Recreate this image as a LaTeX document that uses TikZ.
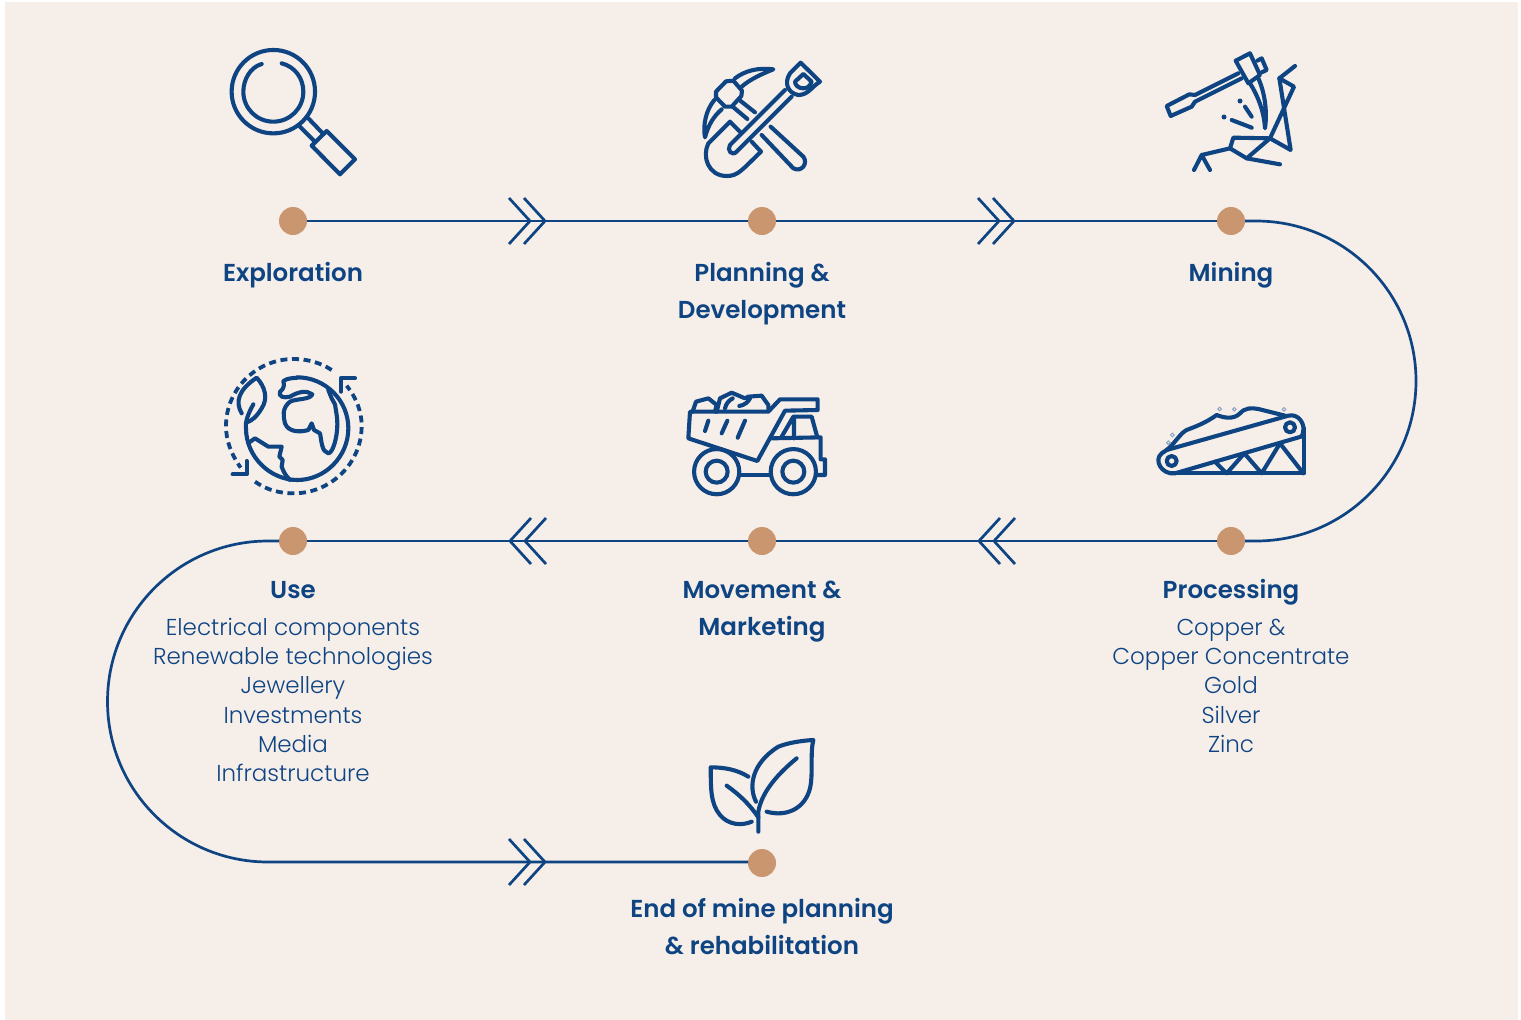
\documentclass[tikz,border=0pt]{standalone}
\usepackage{fontspec}
\setmainfont{Poppins}
\newfontfamily\lightfont{Poppins Light}
\newfontfamily\headfont{Poppins SemiBold}
\usetikzlibrary{calc}
\definecolor{navy}{HTML}{0F4483}
\definecolor{sand}{HTML}{F5EEE9}
\definecolor{dotc}{HTML}{C9966F}
\newcommand{\hstart}{\rule{0pt}{25pt}}
\newcommand{\bstart}{\rule{0pt}{24pt}}
\tikzset{
  flow/.style={draw=navy,line width=2.7pt},
  stop/.style={circle,fill=dotc,minimum size=28pt,inner sep=0pt,outer sep=0pt},
  head/.style={text=navy,align=center,anchor=north,inner sep=0pt,font=\headfont\fontsize{24.5}{37.3}\selectfont},
  body/.style={text=navy,align=center,anchor=north,inner sep=0pt,font=\lightfont\fontsize{23}{29.3}\selectfont},
  icon/.style={draw=navy,line width=4.1pt,line cap=round,line join=round},
  chevright/.pic={\draw[flow] (-21,-23) -- (0,0) -- (-21,23) (-36,-23) -- (-15,0) -- (-36,23);},
  chevleft/.pic={\draw[flow] (21,-23) -- (0,0) -- (21,23) (36,-23) -- (15,0) -- (36,23);}
}
\begin{document}
\begin{tikzpicture}[x=1pt,y=-1pt]
\useasboundingbox (0,0) rectangle (1521,1020);
\fill[sand] (5,2) rectangle (1518,1020);
% stops
\node[stop] (s1) at (293,221) {};
\node[stop] (s2) at (762,221) {};
\node[stop] (s3) at (1231,221) {};
\node[stop] (s4) at (1231,541) {};
\node[stop] (s5) at (762,541) {};
\node[stop] (s6) at (293,541) {};
\node[stop] (s7) at (762,863) {};
\coordinate (r1) at (1256,221);
\coordinate (l1) at (268,541);
\coordinate (l2) at (268,862);
% connectors
\draw[flow] (s1) -- (s2);
\draw[flow] (s2) -- (s3);
\draw[flow] (s3) -- (r1) arc[start angle=90,end angle=-90,radius=160pt] -- (s4);
\draw[flow] (s4) -- (s5);
\draw[flow] (s5) -- (s6);
\draw[flow] (s6) -- (l1) arc[start angle=90,end angle=270,radius=160.5pt] -- (l2) -- (s7.west |- l2);
\pic at (545,221) {chevright};
\pic at (1014,221) {chevright};
\pic at (510,541) {chevleft};
\pic at (979,541) {chevleft};
\pic at (545,862) {chevright};
% labels
\node[head] (t1) at (293,256) {\hstart Exploration};
\node[head] (t2) at (762,256) {\hstart Planning \&\\Development};
\node[head] (t3) at (1231,256) {\hstart Mining};
\node[head] (t4) at (1231,573) {\hstart Processing};
\node[body] (b4) at (1231,611) {\bstart Copper \&\\Copper Concentrate\\Gold\\Silver\\Zinc};
\node[head] (t5) at (762,573) {\hstart Movement \&\\Marketing};
\node[head] (t6) at (293,573) {\hstart Use};
\node[body] (b6) at (293,611) {\bstart Electrical components\\Renewable technologies\\Jewellery\\Investments\\Media\\Infrastructure};
\node[head] (t7) at (762,892) {\hstart End of mine planning\\\& rehabilitation};
% magnifier
\begin{scope}[shift={(200,30)},x=1/3*1pt,y=-1/3*1pt]
\draw[icon] (220,185) circle[radius=41.7pt];
\draw[icon] (185,102) .. controls (150,112) and (130,150) .. (130,185) .. controls (130,235) and (170,275) .. (220,275) .. controls (270,275) and (310,235) .. (310,185) .. controls (310,145) and (285,110) .. (245,100);
\draw[icon] (300,290) -- (345,335) (325,265) -- (370,312);
\draw[icon] (335,347) -- (380,303) -- (465,388) -- (420,433) -- cycle;
\end{scope}
% pick and shovel
\begin{scope}[shift={(680,50)},x=1/3*1pt,y=-1/3*1pt]
\draw[icon] (165,85) .. controls (195,62) and (235,52) .. (280,58) .. controls (245,72) and (210,88) .. (185,110);
\draw[icon] (103,150) .. controls (78,180) and (68,225) .. (75,262) .. controls (85,225) and (100,200) .. (125,178);
\draw[icon] (138,94) -- (160,92) -- (186,122) -- (184,138) -- (155,170) -- (135,170) -- (108,142) -- (108,125) -- cycle;
\draw[icon] (178,150) -- (225,187) (158,170) -- (202,207);
\draw[icon] (272,230) -- (370,320) .. controls (385,340) and (365,368) .. (340,355) -- (245,255);
\draw[icon] (315,120) -- (150,285) .. controls (140,300) and (155,320) .. (170,305) -- (335,140);
\draw[icon] (362,38) -- (420,95) .. controls (395,110) and (385,135) .. (355,135) .. controls (325,130) and (310,100) .. (330,70) -- cycle;
\draw[icon] (345,95) -- (370,72) -- (395,95) .. controls (390,110) and (380,115) .. (370,115) .. controls (355,115) and (345,105) .. (345,95) -- cycle;
\draw[icon] (180,245) -- (150,215) -- (85,280) .. controls (65,320) and (85,378) .. (140,378) .. controls (175,378) and (185,360) .. (243,305) -- (215,275);
\end{scope}
% mining
\begin{scope}[shift={(1150,40)},x=1/3*1pt,y=-1/3*1pt]
\draw[icon] (265,100) -- (135,165) -- (118,163) -- (50,198) -- (62,228) -- (125,200) -- (135,185) -- (275,115);
\draw[icon] (257,62) -- (300,40) -- (330,105) -- (295,130) -- cycle;
\draw[icon] (322,62) -- (335,55) -- (350,90) -- (335,97);
\draw[icon] (300,130) .. controls (325,170) and (342,215) .. (345,265) .. controls (352,215) and (345,160) .. (325,115);
\draw[icon] (285,200) -- (305,230) (245,240) -- (305,263);
\fill[navy] (270,183) circle[radius=2.5pt] (222,231) circle[radius=2.5pt];
\draw[icon] (435,78) -- (388,115) -- (432,140) -- (360,295) -- (290,355) -- (390,373);
\draw[icon] (388,115) -- (422,330) -- (360,295) -- (250,293) -- (240,325) -- (290,355);
\draw[icon] (240,325) -- (155,345) -- (132,390) (155,345) -- (180,390);
\end{scope}
% globe
\begin{scope}[shift={(210,345)},x=1/3*1pt,y=-1/3*1pt]
\draw[icon] (262,97) .. controls (345,97) and (415,165) .. (415,250) .. controls (415,335) and (345,405) .. (262,405) .. controls (180,405) and (108,335) .. (108,250);
\draw[icon,line width=3.8pt,line cap=butt,dash pattern=on 7pt off 4.6pt] (365,75) .. controls (330,52) and (290,42) .. (251,42) .. controls (140,42) and (48,132) .. (48,243) .. controls (48,285) and (62,325) .. (92,368);
\draw[icon,line width=3.8pt,line cap=butt,dash pattern=on 7pt off 4.6pt] (135,410) .. controls (170,435) and (210,445) .. (251,445) .. controls (362,445) and (455,355) .. (455,243) .. controls (455,200) and (440,160) .. (410,122);
\draw[icon] (393,140) -- (393,100) -- (435,100);
\draw[icon] (110,348) -- (110,388) -- (68,388);
\draw[icon] (95,205) .. controls (75,170) and (85,135) .. (140,98) .. controls (165,125) and (175,160) .. (155,190) .. controls (140,215) and (125,228) .. (110,232);
\draw[icon] (130,178) .. controls (115,205) and (105,230) .. (108,250);
\draw[icon] (355,135) -- (365,160) -- (375,178) -- (380,210) .. controls (388,260) and (370,325) .. (355,325) .. controls (335,320) and (335,290) .. (330,265) -- (312,255) -- (305,235) -- (295,255) .. controls (270,262) and (235,262) .. (225,235) .. controls (220,215) and (215,190) .. (240,170) .. controls (260,160) and (300,165) .. (307,148) .. controls (290,135) and (265,140) .. (240,155) .. controls (220,160) and (205,155) .. (210,140) .. controls (228,125) and (220,115) .. (220,108) .. controls (235,98) and (250,100) .. (262,98);
\draw[icon] (118,292) -- (135,280) -- (175,305) -- (215,305) -- (208,335) -- (218,345) -- (215,365) .. controls (222,385) and (230,395) .. (240,405);
\end{scope}
% truck
\begin{scope}[shift={(670,380)},x=1/3*1pt,y=-1/3*1pt]
\draw[icon] (60,95) -- (295,95) -- (330,58) -- (443,58) -- (443,90) -- (345,92) -- (262,243) -- (55,175) -- cycle;
\draw[icon] (68,95) -- (78,65) -- (115,55) -- (140,75) -- (135,95);
\draw[icon] (140,95) -- (150,55) -- (185,38) -- (225,55) -- (235,50) -- (275,47) -- (295,75) -- (295,90);
\draw[icon] (165,85) .. controls (168,72) and (175,62) .. (188,55) (208,78) .. controls (225,75) and (235,65) .. (240,55);
\draw[icon] (115,122) -- (105,153) (172,122) -- (155,160) (225,122) -- (203,173);
\draw[icon] (305,175) -- (452,172) -- (452,238) -- (465,238) -- (465,285) -- (440,285);
\draw[icon] (335,170) -- (370,110) -- (425,110) -- (442,172) (372,110) -- (372,175);
\draw[icon] (140,275) circle[radius=22.6pt] (140,275) circle[radius=11pt];
\draw[icon] (370,275) circle[radius=22.6pt] (370,275) circle[radius=11pt];
\draw[icon] (208,285) -- (302,285);
\end{scope}
% conveyor
\begin{scope}[shift={(1145,395)},x=1/3*1pt,y=-1/3*1pt]
\draw[icon] (65,165) -- (430,62) .. controls (460,55) and (478,85) .. (475,105) .. controls (475,115) and (472,122) .. (468,125) -- (90,235) .. controls (50,240) and (25,195) .. (50,175) -- cycle;
\draw[icon] (80,198) circle[radius=5pt] (435,97) circle[radius=5pt];
\draw[icon] (85,235) -- (478,235) -- (478,100);
\draw[icon] (210,200) -- (245,235) -- (298,175) -- (350,235) -- (405,145) -- (475,235);
\draw[icon] (65,165) .. controls (90,145) and (105,115) .. (125,105) .. controls (150,95) and (180,85) .. (215,60) .. controls (235,68) and (265,75) .. (285,55) .. controls (300,38) and (320,38) .. (340,42) -- (420,62);
\draw[navy!50,line width=.9pt] (224,42) circle[radius=1.8pt] (268,43) circle[radius=1.8pt] (417,43) circle[radius=1.8pt] (82,120) circle[radius=1.8pt] (70,143) circle[radius=1.8pt];
\end{scope}
% leaves
\begin{scope}[shift={(695,730)},x=1/3*1pt,y=-1/3*1pt]
\draw[icon] (190,305) -- (190,245) .. controls (200,185) and (250,130) .. (305,85);
\draw[icon] (183,215) .. controls (160,170) and (170,100) .. (250,50) .. controls (280,38) and (320,32) .. (355,30) .. controls (345,70) and (355,130) .. (345,175) .. controls (330,235) and (275,262) .. (215,245);
\draw[icon] (160,140) .. controls (125,118) and (85,112) .. (47,112) .. controls (48,170) and (45,220) .. (75,255) .. controls (100,285) and (140,288) .. (170,275);
\draw[icon] (95,167) .. controls (135,195) and (165,225) .. (190,262);
\end{scope}
\end{tikzpicture}
\end{document}
